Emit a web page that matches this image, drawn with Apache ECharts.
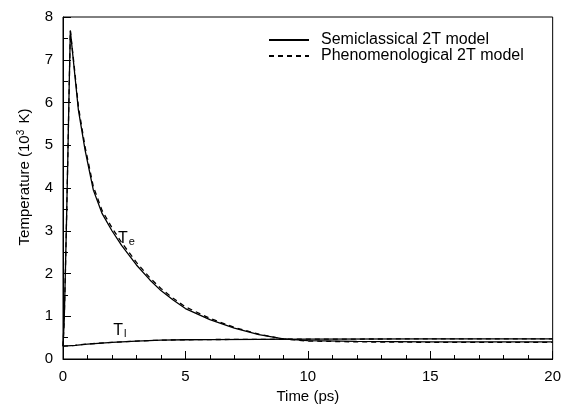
<!DOCTYPE html>
<html>
<head>
<meta charset="utf-8">
<script src="https://cdn.jsdelivr.net/npm/echarts@6/dist/echarts.min.js"></script>
<style>
html,body{margin:0;padding:0;background:#fff;}
#chart{width:564px;height:412px;}
</style>
</head>
<body>
<div id="chart"></div>
<script>
// Time (ps) and electron temperature (10^3 K)
var teTime = [0, 0.05, 0.1, 0.15, 0.2, 0.25, 0.3, 0.42, 0.5, 0.63, 0.9, 1.24, 1.6, 2.0, 2.4, 3.0, 3.55, 4.0, 4.5, 5, 6, 7, 8, 9, 10, 12, 15, 20];
var teSemi = [0.30, 0.9, 2.1, 3.4, 4.8, 6.3, 7.68, 7.0, 6.55, 5.82, 4.89, 3.95, 3.4, 3.0, 2.65, 2.2, 1.85, 1.6, 1.38, 1.18, 0.92, 0.72, 0.57, 0.47, 0.43, 0.41, 0.40, 0.40];
var tePhen = [0.30, 0.9, 2.1, 3.4, 4.8, 6.3, 7.68, 7.05, 6.62, 5.9, 4.97, 4.03, 3.47, 3.07, 2.72, 2.26, 1.9, 1.65, 1.42, 1.22, 0.95, 0.74, 0.58, 0.47, 0.42, 0.40, 0.39, 0.39];
// Lattice temperature
var tlTime = [0, 0.5, 1, 2, 3, 4, 5, 6, 8, 10, 15, 20];
var tlSemi = [0.30, 0.32, 0.35, 0.39, 0.42, 0.44, 0.45, 0.455, 0.46, 0.465, 0.47, 0.47];
var tlPhen = [0.30, 0.32, 0.35, 0.39, 0.42, 0.44, 0.45, 0.455, 0.46, 0.465, 0.47, 0.47];
var xTicks = [0, 5, 10, 15, 20];
var yTicks = [0, 1, 2, 3, 4, 5, 6, 7, 8];
var seriesNames = ['Semiclassical 2T model', 'Phenomenological 2T model'];

function pairs(xs, ys){ return xs.map(function(x,i){ return [x, ys[i]]; }); }

var FONT = 'Liberation Sans, Arial, sans-serif';
var chart = echarts.init(document.getElementById('chart'));

function mkLine(name, data, dashed){
  return {
    type: 'line', name: name, data: data, symbol: 'none', showSymbol: false,
    silent: true, animation: false,
    lineStyle: { color: '#000', width: 1.3, type: dashed ? [5, 4] : 'solid' },
    itemStyle: { color: '#000' }
  };
}

chart.setOption({
  animation: false,
  backgroundColor: '#fff',
  grid: { left: 63, right: 11, top: 17, bottom: 53, show: true, borderColor: '#000', borderWidth: 1, backgroundColor: 'transparent' },
  legend: {
    orient: 'vertical', left: 268, top: 32, padding: 0, itemGap: 0,
    itemWidth: 40, itemHeight: 15,
    data: seriesNames,
    itemStyle: { color: 'transparent', borderWidth: 0, opacity: 0 },
    textStyle: { fontFamily: FONT, fontSize: 16, color: '#000', lineHeight: 15, padding: [0, 0, 0, 7] }
  },
  xAxis: {
    type: 'value', min: xTicks[0], max: xTicks[xTicks.length-1], interval: 5,
    name: 'Time (ps)', nameLocation: 'middle', nameGap: 17,
    nameTextStyle: { fontFamily: FONT, fontSize: 15, color: '#000' },
    axisLine: { lineStyle: { color: '#000', width: 1 } },
    axisTick: { inside: true, length: 8, lineStyle: { color: '#000' } },
    minorTick: { show: true, splitNumber: 5, length: 4, lineStyle: { color: '#000' } },
    splitLine: { show: false },
    axisLabel: { margin: 10, fontFamily: FONT, fontSize: 15, color: '#000' }
  },
  yAxis: {
    type: 'value', min: yTicks[0], max: yTicks[yTicks.length-1], interval: 1,
    name: 'Temperature (10{sup|3} K)', nameLocation: 'middle', nameGap: 30,
    nameTextStyle: { fontFamily: FONT, fontSize: 15, color: '#000', padding: [0, 0, 0, 22],
      rich: { sup: { fontFamily: FONT, fontSize: 10, color: '#000', verticalAlign: 'top', padding: [0, 2, 7, 0] } } },
    axisLine: { show: true, lineStyle: { color: '#000', width: 1 } },
    axisTick: { show: true, inside: true, length: 8, lineStyle: { color: '#000' } },
    minorTick: { show: true, splitNumber: 2, length: 5, lineStyle: { color: '#000' } },
    splitLine: { show: false },
    axisLabel: { margin: 10, fontFamily: FONT, fontSize: 15, color: '#000' }
  },
  series: [
    mkLine(seriesNames[0], pairs(teTime, teSemi), false),
    mkLine(seriesNames[0], pairs(tlTime, tlSemi), false),
    mkLine(seriesNames[1], pairs(teTime, tePhen), true),
    mkLine(seriesNames[1], pairs(tlTime, tlPhen), true)
  ]
});

// curve labels placed in data coordinates
var teLab = chart.convertToPixel({gridIndex: 0}, [2.25, 3.0]);
var tlLab = chart.convertToPixel({gridIndex: 0}, [2.05, 0.85]);
var rich = {
  t: { fontFamily: FONT, fontSize: 16, color: '#000', lineHeight: 18 },
  s: { fontFamily: FONT, fontSize: 11, color: '#000', lineHeight: 18, verticalAlign: 'bottom', padding: [6, 0, 0, 1] }
};
chart.setOption({
  graphic: [
    { type: 'text', left: teLab[0], top: teLab[1], silent: true,
      style: { text: '{t|T}{s|e}', rich: rich } },
    { type: 'text', left: tlLab[0], top: tlLab[1], silent: true,
      style: { text: '{t|T}{s|l}', rich: rich } }
  ]
});
</script>
</body>
</html>
